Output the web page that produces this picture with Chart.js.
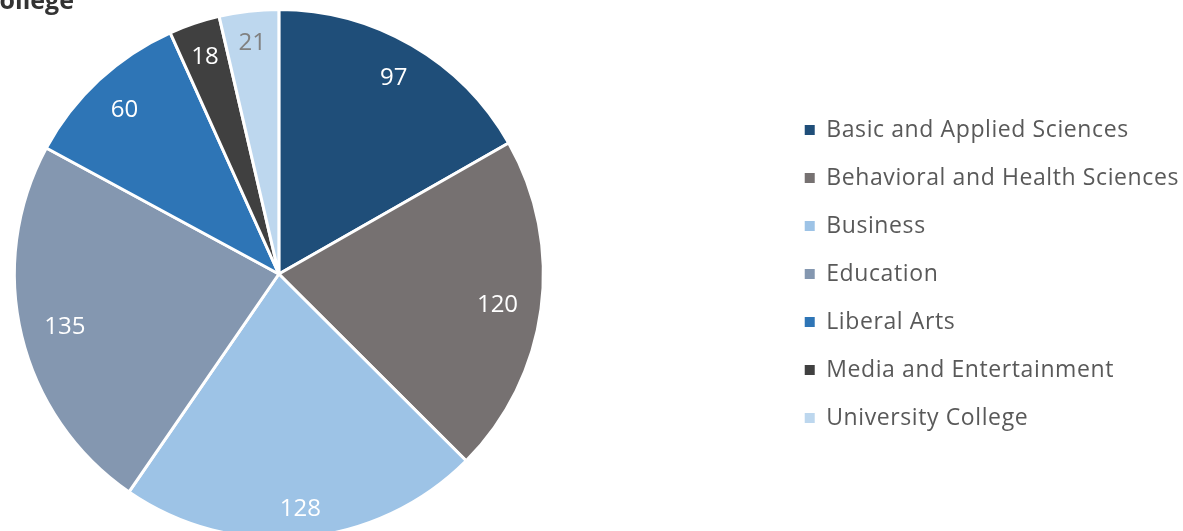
<!DOCTYPE html>
<html>
<head>
<meta charset="utf-8">
<script src="https://cdn.jsdelivr.net/npm/chart.js@4.4.1/dist/chart.umd.min.js"></script>
<style>
  html, body { margin: 0; padding: 0; background: #fff; overflow: hidden; }
  /* canvas starts left of the page so the pie sits near the left edge */
  #wrap { position: absolute; left: -222px; top: 0; width: 1405px; height: 545px; }
</style>
</head>
<body>
<div id="wrap"><canvas id="college-chart"></canvas></div>
<script>
var colleges = ['Basic and Applied Sciences', 'Behavioral and Health Sciences', 'Business', 'Education', 'Liberal Arts', 'Media and Entertainment', 'University College'];
var counts = [97, 120, 128, 135, 60, 18, 21];
var sliceColors = ['#1F4E79', '#767171', '#9DC3E6', '#8497B0', '#2E75B6', '#404040', '#BDD7EE'];
var labelColors = ['#fff', '#fff', '#fff', '#fff', '#fff', '#fff', '#808080'];
var chartTitle = 'Faculty by College';
var shiftX = 222;

// a little extra tracking on all canvas text
const tracking = {
  id: 'tracking',
  beforeUpdate(chart) { chart.ctx.letterSpacing = '0.6px'; },
  beforeDraw(chart) { chart.ctx.letterSpacing = '0.6px'; }
};

// value labels, pushed out toward the rim as far as the text box fits
const sliceLabels = {
  id: 'sliceLabels',
  afterDatasetsDraw(chart) {
    const ctx = chart.ctx;
    const meta = chart.getDatasetMeta(0);
    ctx.save();
    ctx.font = '24px "Open Sans"';
    ctx.letterSpacing = '0px';
    ctx.textAlign = 'center';
    ctx.textBaseline = 'middle';
    meta.data.forEach(function (arc, i) {
      const p = arc.getProps(['x', 'y', 'startAngle', 'endAngle', 'outerRadius'], true);
      const mid = (p.startAngle + p.endAngle) / 2;
      const cx = Math.cos(mid), cy = Math.sin(mid);
      const txt = String(counts[i]);
      const hw = ctx.measureText(txt).width / 2 + 6;
      const hh = 11;
      const limit = p.outerRadius - 16;
      let lo = 0, hi = p.outerRadius;
      for (let k = 0; k < 40; k++) {
        const d = (lo + hi) / 2;
        const fx = Math.abs(d * cx) + hw, fy = Math.abs(d * cy) + hh;
        if (Math.sqrt(fx * fx + fy * fy) <= limit) lo = d; else hi = d;
      }
      ctx.fillStyle = labelColors[i];
      ctx.fillText(txt, p.x + lo * cx, p.y + lo * cy + 2);
    });
    ctx.restore();
  }
};

// bold heading anchored by its right end
const cornerTitle = {
  id: 'cornerTitle',
  afterDraw(chart) {
    const ctx = chart.ctx;
    ctx.save();
    ctx.font = 'bold 25px "Open Sans"';
    ctx.letterSpacing = '0px';
    ctx.fillStyle = '#333333';
    ctx.textAlign = 'right';
    ctx.textBaseline = 'alphabetic';
    ctx.fillText(chartTitle, shiftX + 74, 9);
    ctx.restore();
  }
};

new Chart(document.getElementById('college-chart'), {
  type: 'pie',
  data: {
    labels: colleges,
    datasets: [{
      data: counts,
      backgroundColor: sliceColors,
      borderColor: '#fff',
      borderWidth: 3
    }]
  },
  options: {
    responsive: true,
    maintainAspectRatio: false,
    animation: false,
    layout: {
      padding: { top: 8, bottom: 5, left: 0, right: -6 }
    },
    plugins: {
      legend: {
        position: 'right',
        labels: {
          color: '#595959',
          font: { family: '"Open Sans"', size: 23 },
          boxWidth: 10,
          boxHeight: 10,
          padding: 25,
          // solid squares, without the white slice border
          generateLabels: function (chart) {
            return Chart.overrides.pie.plugins.legend.labels.generateLabels(chart).map(function (item) {
              item.lineWidth = 0;
              item.strokeStyle = item.fillStyle;
              return item;
            });
          }
        }
      },
      tooltip: { enabled: false }
    }
  },
  plugins: [tracking, sliceLabels, cornerTitle]
});
</script>
</body>
</html>
